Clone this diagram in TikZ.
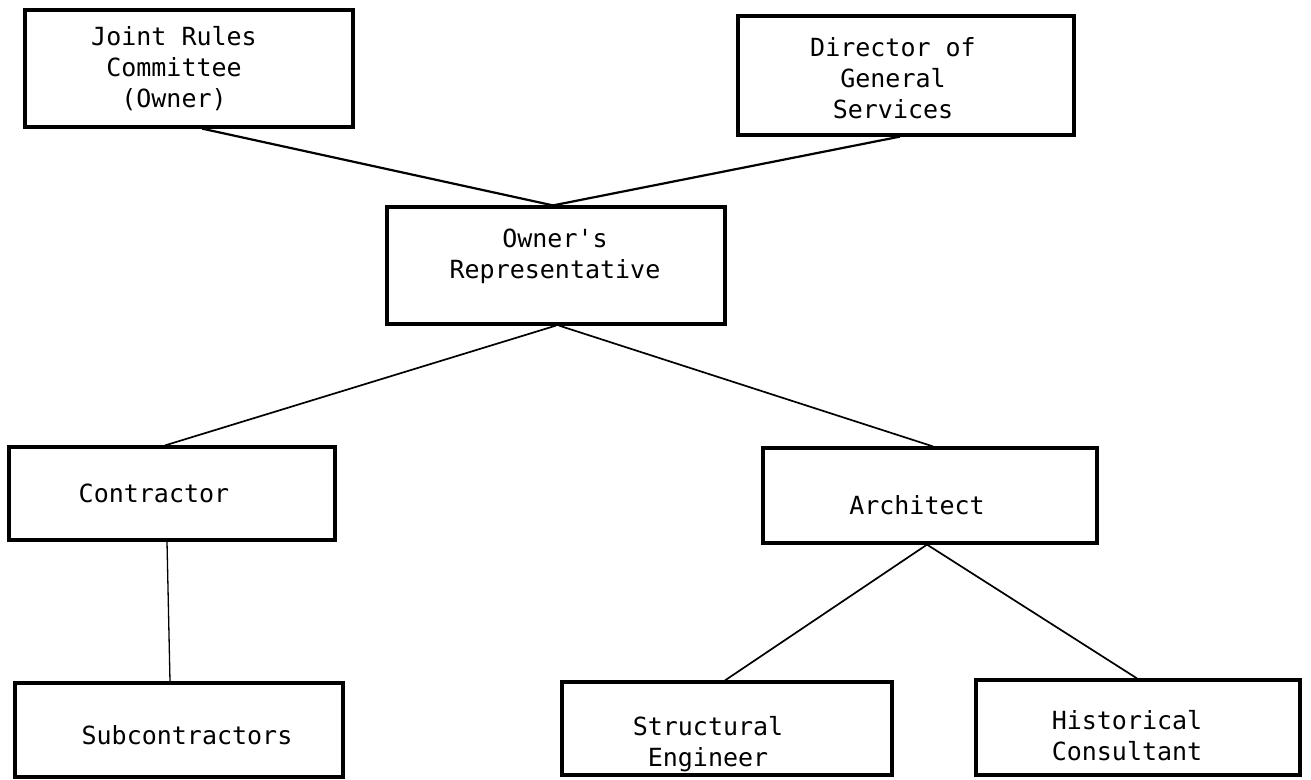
\documentclass[tikz,border=0pt]{standalone}
\usepackage{fontspec}
\setmonofont{DejaVu Sans Mono}
\usetikzlibrary{calc}
\begin{document}
\begin{tikzpicture}[x=1pt,y=-1pt,
  box/.style={draw=black,line width=3.2pt,rectangle,inner sep=0pt},
  lbl/.style={font=\ttfamily\fontsize{25}{31}\selectfont,align=center,inner sep=0pt},
  conn/.style={draw=black,line width=2.2pt},
  mid/.style={draw=black,line width=1.7pt},
  thin/.style={draw=black,line width=1.3pt}]
\useasboundingbox (0,0) rectangle (1311,779);
\fill[white] (0,0) rectangle (1311,779);
% boxes
\node[box,minimum width=328,minimum height=117] (jrc) at (189,68.5) {};
\node[box,minimum width=336,minimum height=119] (dgs) at (906,75.5) {};
\node[box,minimum width=338,minimum height=117] (orep) at (556,265.5) {};
\node[box,minimum width=326,minimum height=93] (con) at (172,493.5) {};
\node[box,minimum width=334,minimum height=95] (arch) at (930,495.5) {};
\node[box,minimum width=328,minimum height=94] (sub) at (179,730) {};
\node[box,minimum width=330,minimum height=93] (se) at (727,728.5) {};
\node[box,minimum width=324,minimum height=95] (hc) at (1138,727.5) {};
% labels
\node[lbl] (jrct) at (174,69) {Joint Rules\\Committee\\(Owner)};
\node[lbl] (dgst) at (893,78) {Director of\\General\\Services};
\node[lbl] (orept) at (555,256) {Owner's\\Representative};
\node[lbl] (cont) at (154,493) {Contractor};
\node[lbl] (archt) at (917,505) {Architect};
\node[lbl] (subt) at (187,735) {Subcontractors};
\node[lbl] (set) at (708,744) {Structural\\Engineer};
\node[lbl] (hct) at (1127,736) {Historical\\Consultant};
% connectors
\draw[conn] ($(jrc.south)+(13,0)$) -- ($(orep.north)+(-3,0)$);
\draw[conn] ($(dgs.south)+(-6,0)$) -- ($(orep.north)+(-3,0)$);
\draw[mid] (orep.south) -- ($(con.north)+(-7,0)$);
\draw[mid] ($(orep.south)+(3,0)$) -- ($(arch.north)+(3,0)$);
\draw[thin] ($(con.south)+(-5,0)$) -- ($(sub.north)+(-9,0)$);
\draw[mid] ($(arch.south)+(-3,0)$) -- ($(se.north)+(-2,0)$);
\draw[mid] ($(arch.south)+(-3,0)$) -- ($(hc.north)+(-1,0)$);
\end{tikzpicture}
\end{document}
